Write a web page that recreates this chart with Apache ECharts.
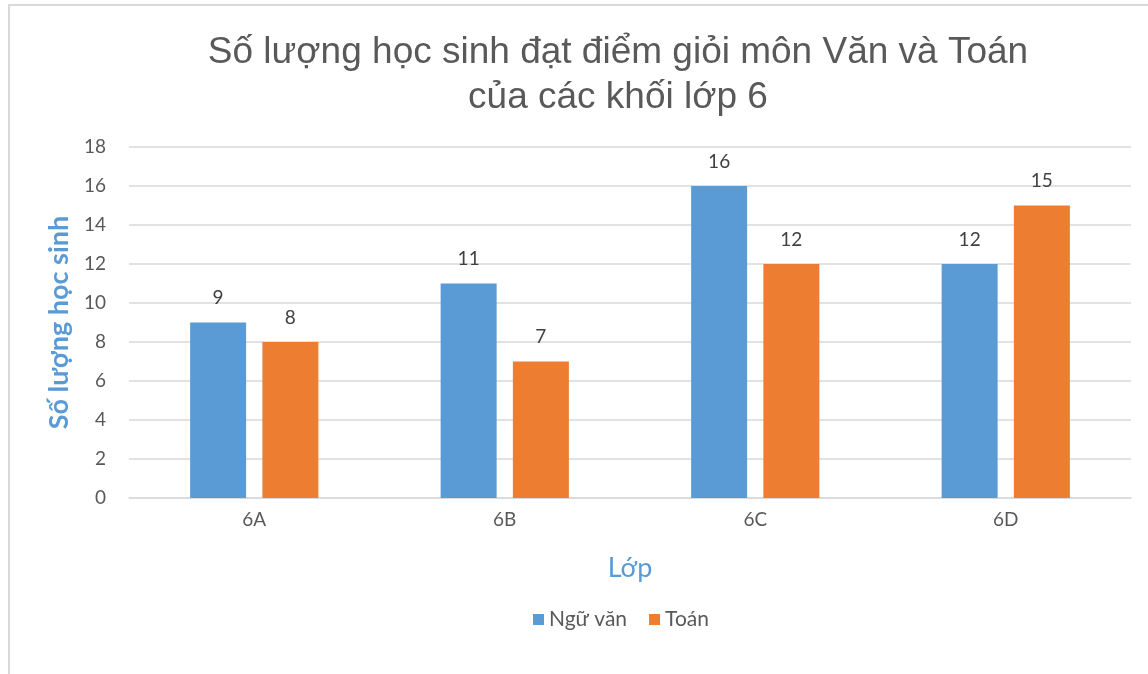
<!DOCTYPE html>
<html>
<head>
<meta charset="utf-8">
<script src="https://cdn.jsdelivr.net/npm/echarts@6/dist/echarts.min.js"></script>
<style>
    html, body { margin: 0; padding: 0; background: #fff; }
    #chart { position: absolute; left: 8px; top: 4px; width: 1140px; height: 670px;
             border-left: 2px solid #d9d9d9; border-top: 2px solid #d9d9d9; box-sizing: border-box; }
</style>
</head>
<body>
<div id="chart"></div>
<script>
    var classes = ['6A', '6B', '6C', '6D'];
    var nguVan = [9, 11, 16, 12];
    var toan = [8, 7, 12, 15];
    var seriesNames = ['Ngữ văn', 'Toán'];

    var myChart = echarts.init(document.getElementById('chart'));
    var labelStyle = {
        show: true,
        position: 'top',
        distance: 15,
        color: '#404040',
        fontSize: 19,
        fontFamily: 'Lato'
    };
    var option = {
        animation: false,
        title: {
            text: 'Số lượng học sinh đạt điểm giỏi môn Văn và Toán\ncủa các khối lớp 6',
            left: 603,
            textAlign: 'center',
            top: 19,
            textStyle: {
                color: '#595959',
                fontSize: 37,
                fontWeight: 'normal',
                fontFamily: 'Liberation Sans',
                lineHeight: 45
            }
        },
        legend: {
            data: seriesNames,
            top: 598,
            left: 518,
            itemWidth: 11,
            itemHeight: 11,
            itemGap: 22,
            icon: 'rect',
            textStyle: { color: '#595959', fontSize: 21, fontFamily: 'Lato' }
        },
        grid: {
            left: 119,
            right: 17,
            top: 141,
            bottom: 176
        },
        xAxis: {
            type: 'category',
            data: classes,
            name: 'Lớp',
            nameLocation: 'middle',
            nameGap: 57,
            nameTextStyle: { color: '#5b9bd5', fontSize: 27, fontFamily: 'Lato' },
            axisLine: { lineStyle: { color: '#d9d9d9', width: 1.5 } },
            axisTick: { show: false },
            axisLabel: { color: '#595959', fontSize: 19, fontFamily: 'Lato', margin: 12 }
        },
        yAxis: {
            type: 'value',
            min: 0,
            max: 18,
            interval: 2,
            name: 'Số lượng học sinh',
            nameLocation: 'middle',
            nameGap: 52,
            nameTextStyle: { color: '#5b9bd5', fontSize: 27, fontFamily: 'Lato', fontWeight: 'bold' },
            axisLine: { show: false },
            axisTick: { show: false },
            axisLabel: { color: '#595959', fontSize: 19, fontFamily: 'Lato', margin: 23 },
            splitLine: { lineStyle: { color: '#d9d9d9', width: 1.5 } }
        },
        series: [
            {
                name: seriesNames[0],
                type: 'bar',
                data: nguVan,
                barWidth: 56,
                barGap: '29%',
                itemStyle: { color: '#5b9bd5' },
                label: labelStyle
            },
            {
                name: seriesNames[1],
                type: 'bar',
                data: toan,
                barWidth: 56,
                itemStyle: { color: '#ed7d31' },
                label: labelStyle
            }
        ]
    };
    myChart.setOption(option);
</script>
</body>
</html>
